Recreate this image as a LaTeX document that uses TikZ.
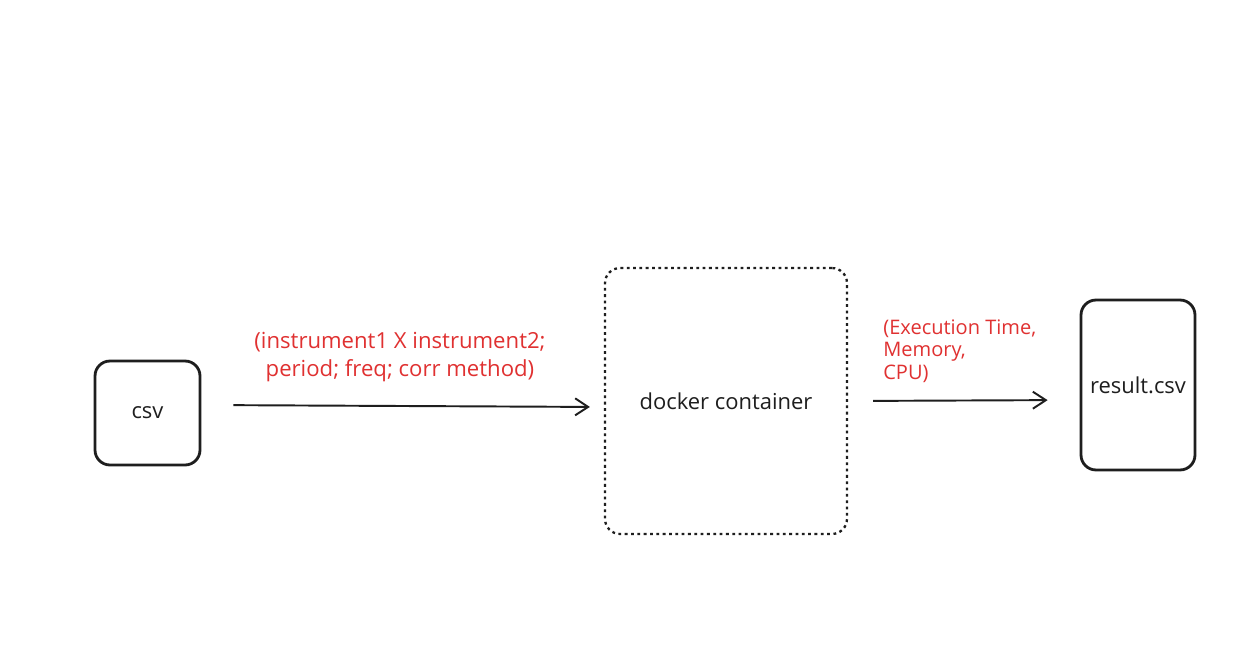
\documentclass[tikz,border=0pt]{standalone}
\usepackage{fontspec}
\setmainfont{Open Sans}
\usetikzlibrary{arrows.meta}
\definecolor{ink}{HTML}{1E1E1E}
\definecolor{notered}{HTML}{E03131}
\begin{document}
\begin{tikzpicture}[x=0.02cm, y=-0.02cm,
	box/.style={draw=ink, line width=1.6pt, rounded corners=0.3cm, fill=white, text=ink, font=\fontsize{12.5}{15}\selectfont},
	flow/.style={draw=ink, line width=1.1pt, -{Straight Barb[length=0.26cm, width=0.34cm, line width=1.1pt]}},
	note/.style={text=notered, font=\fontsize{12.6}{15.5}\selectfont, inner sep=0pt}]
	\useasboundingbox[fill=white] (0,0) rectangle (1252,652);
	\node[box, minimum width=2.1cm, minimum height=2.08cm](csv) at (147.5,413){csv};
	\node[box, dotted, line width=1.3pt, minimum width=4.84cm, minimum height=5.32cm](docker) at (726,401){docker container};
	\node[box, minimum width=2.28cm, minimum height=3.4cm](result) at (1138,385){result.csv};

	\draw [flow, shorten <=0.64cm, shorten >=0.28cm] ([yshift=0.16cm]csv.east) -- ([yshift=-0.12cm]docker.west);
	\draw [flow, shorten <=0.5cm, shorten >=0.64cm] (docker.east) -- ([yshift=-0.3cm]result.west);

	\node[note, align=center](inlabel) at (400,357){(instrument1 X instrument2;\\period; freq; corr method)};
	\node[note, align=left, anchor=north west, font=\fontsize{11.4}{12.8}\selectfont](outlabel) at (883,319){(Execution Time,\\Memory,\\CPU)};
\end{tikzpicture}
\end{document}
